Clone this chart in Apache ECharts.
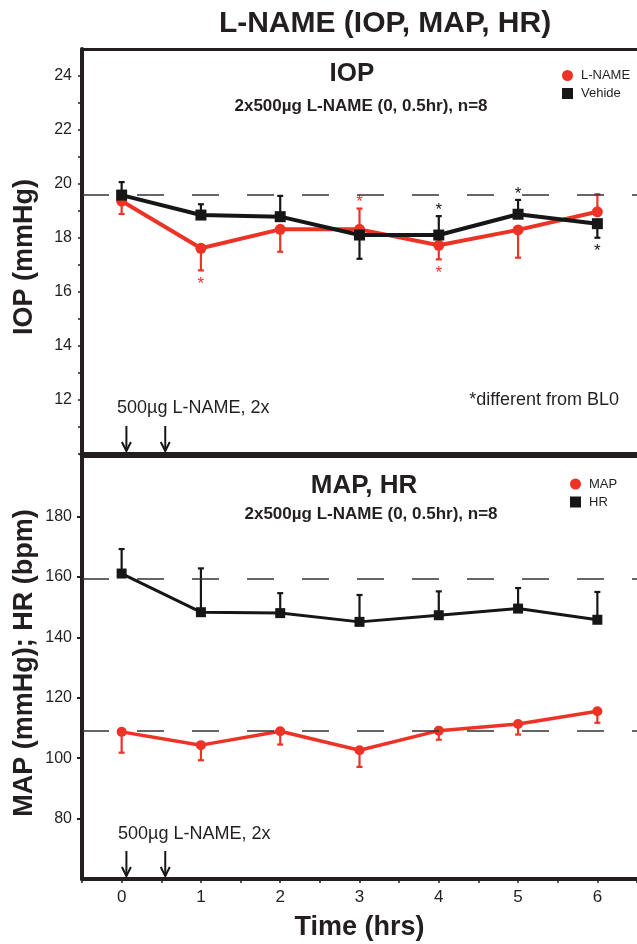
<!DOCTYPE html>
<html>
<head>
<meta charset="utf-8">
<title>L-NAME (IOP, MAP, HR)</title>
<script src="https://cdn.jsdelivr.net/npm/echarts@6/dist/echarts.min.js"></script>
<style>
  html, body { margin: 0; padding: 0; background: #fff; }
  #chart { width: 637px; height: 944px; }
</style>
</head>
<body>
<div id="chart"></div>
<script>
// time points (hrs) and the two L-NAME doses
var hours = [0, 1, 2, 3, 4, 5, 6];
var doseTimes = [0.06, 0.55];

// IOP (mmHg): mean, SEM, side of the error bar (1 up, -1 down), significance
var iopLName = [19.37, 17.62, 18.32, 18.32, 17.73, 18.30, 18.97];
var iopLNameSem = [0.48, 0.82, 0.83, 0.77, 0.52, 1.03, 0.65];
var iopLNameDir = [-1, -1, -1, 1, -1, -1, 1];
var iopLNameSig = [0, 1, 0, 1, 1, 0, 0];

var iopVehicle = [19.59, 18.85, 18.79, 18.11, 18.11, 18.88, 18.53];
var iopVehicleSem = [0.48, 0.40, 0.77, 0.88, 0.70, 0.53, 0.52];
var iopVehicleDir = [1, 1, 1, -1, 1, 1, -1];
var iopVehicleSig = [0, 0, 0, 0, 1, 1, 1];

var iopBaseline = 19.6;

// MAP (mmHg) and HR (bpm)
var mapValues = [108.7, 104.3, 108.9, 102.6, 109.1, 111.3, 115.5];
var mapSem = [6.9, 5.0, 4.4, 5.5, 3.0, 3.5, 3.8];
var mapDir = [-1, -1, -1, -1, -1, -1, -1];

var hrValues = [161.1, 148.3, 148.0, 145.1, 147.3, 149.5, 145.8];
var hrSem = [8.1, 14.5, 6.6, 8.9, 7.9, 6.8, 9.2];
var hrDir = [1, 1, 1, 1, 1, 1, 1];

var mapBaseline = 109.2;
var hrBaseline = 159.5;

// axes
var hourLabels = [0, 1, 2, 3, 4, 5, 6];
var hourTicks = [-0.5, 0, 0.5, 1, 1.5, 2, 2.5, 3, 3.5, 4, 4.5, 5, 5.5, 6, 6.5];
var iopLabels = [12, 14, 16, 18, 20, 22, 24];
var iopTicks = [10, 11, 12, 13, 14, 15, 16, 17, 18, 19, 20, 21, 22, 23, 24];
var bpLabels = [80, 100, 120, 140, 160, 180];

var IOP_MIN = 10, IOP_MAX = 25, BP_MIN = 60, BP_MAX = 200;

var RED = '#ec3326';
var BLACK = '#161616';
var INK = '#231f20';
var FONT = '"Liberation Sans", Arial, Helvetica, sans-serif';

var chart = echarts.init(document.getElementById('chart'), null, { renderer: 'canvas' });

function pairs(values) {
  return hours.map(function (h, i) { return [h, values[i]]; });
}

function errRows(values, sem, dir, sig) {
  return hours.map(function (h, i) {
    return [h, values[i], sem[i], dir[i], sig ? sig[i] : 0];
  });
}

// vertical one-sided error bar with a cap, plus "*" past its end when significant
function errorBars(color, width) {
  return function (params, api) {
    var x = api.value(0), v = api.value(1), e = api.value(2), d = api.value(3), sig = api.value(4);
    var p0 = api.coord([x, v]);
    var p1 = api.coord([x, v + d * e]);
    var kids = [
      { type: 'line', shape: { x1: p0[0], y1: p0[1], x2: p1[0], y2: p1[1] },
        style: { stroke: color, lineWidth: width } },
      { type: 'line', shape: { x1: p1[0] - 3, y1: p1[1], x2: p1[0] + 3, y2: p1[1] },
        style: { stroke: color, lineWidth: width } }
    ];
    if (sig) {
      kids.push({
        type: 'text',
        style: {
          text: '*', x: p1[0], y: p1[1] + (d > 0 ? -6 : 14),
          fill: color, font: '17px ' + FONT,
          align: 'center', verticalAlign: 'middle',
          textAlign: 'center', textVerticalAlign: 'middle'
        }
      });
    }
    return { type: 'group', children: kids };
  };
}

// injection arrows standing on the bottom axis
function doseArrow(params, api) {
  var p = api.coord([api.value(0), api.value(1)]);
  var tip = p[1] - 3, top = tip - 25;
  return {
    type: 'group',
    children: [
      { type: 'line', shape: { x1: p[0], y1: top, x2: p[0], y2: tip },
        style: { stroke: BLACK, lineWidth: 2 } },
      { type: 'polyline', shape: { points: [[p[0] - 4.5, tip - 9], [p[0], tip], [p[0] + 4.5, tip - 9]] },
        style: { stroke: BLACK, lineWidth: 2, fill: null } }
    ]
  };
}

function baseline(value) {
  return {
    silent: true,
    symbol: 'none',
    label: { show: false },
    lineStyle: { type: [27, 28], color: '#333', width: 1.5 },
    data: [{ yAxis: value }]
  };
}

function text(str, x, y, size, bold, align, rotate) {
  return {
    type: 'text', x: x, y: y, rotation: rotate || 0,
    style: {
      text: str, fill: INK,
      font: (bold ? 'bold ' : '') + size + 'px ' + FONT,
      align: align || 'center', verticalAlign: 'middle',
      textAlign: align || 'center', textVerticalAlign: 'middle'
    }
  };
}

function xAxisBase(grid, pos, lineWidth) {
  return {
    type: 'value', gridIndex: grid, position: pos, min: -0.5, max: 6.5,
    axisLine: { onZero: false, lineStyle: { color: INK, width: lineWidth } },
    axisTick: { show: false },
    axisLabel: { show: false },
    splitLine: { show: false }
  };
}

var bottomX = xAxisBase(1, 'bottom', 4);
bottomX.axisTick = { show: true, customValues: hourTicks, length: 4, lineStyle: { color: INK, width: 1.5 } };
bottomX.axisLabel = { show: true, customValues: hourLabels, fontSize: 17, color: INK, fontFamily: FONT, margin: 10 };
bottomX.name = 'Time (hrs)';
bottomX.nameLocation = 'middle';
bottomX.nameGap = 35;
bottomX.nameTextStyle = { fontSize: 27, fontWeight: 'bold', color: INK, fontFamily: FONT };

var legendText = { fontSize: 13, color: INK, fontFamily: FONT, padding: [0, 0, 0, 3] };

var option = {
  animation: false,
  backgroundColor: '#fff',
  grid: [
    { left: 82, top: 49, width: 561, height: 405 },
    { left: 82, top: 456, width: 561, height: 423 }
  ],
  xAxis: [
    xAxisBase(0, 'bottom', 5),
    xAxisBase(0, 'top', 3),
    bottomX,
    xAxisBase(1, 'top', 3)
  ],
  yAxis: [
    {
      type: 'value', gridIndex: 0, min: IOP_MIN, max: IOP_MAX,
      axisLine: { show: true, onZero: false, lineStyle: { color: INK, width: 4 } },
      axisTick: { show: true, customValues: iopTicks, length: 4, lineStyle: { color: INK, width: 1.5 } },
      axisLabel: { customValues: iopLabels, fontSize: 16, color: INK, fontFamily: FONT, margin: 10 },
      splitLine: { show: false }
    },
    {
      type: 'value', gridIndex: 1, min: BP_MIN, max: BP_MAX,
      axisLine: { show: true, onZero: false, lineStyle: { color: INK, width: 4 } },
      axisTick: { show: true, customValues: bpLabels, length: 5, lineStyle: { color: INK, width: 2 } },
      axisLabel: { customValues: bpLabels, fontSize: 16, color: INK, fontFamily: FONT, margin: 10 },
      splitLine: { show: false }
    }
  ],
  legend: [
    {
      orient: 'vertical', left: 562, top: 69, padding: 0, itemGap: 5,
      itemWidth: 11, itemHeight: 11,
      textStyle: legendText,
      data: [{ name: 'L-NAME', icon: 'circle' }, { name: 'Vehide', icon: 'rect' }]
    },
    {
      orient: 'vertical', left: 570, top: 477.5, padding: 0, itemGap: 5,
      itemWidth: 11, itemHeight: 11,
      textStyle: legendText,
      data: [{ name: 'MAP', icon: 'circle' }, { name: 'HR', icon: 'rect' }]
    }
  ],
  graphic: [
    text('L-NAME (IOP, MAP, HR)', 385, 24, 30, true),
    text('IOP', 352, 74, 26, true),
    text('2x500\u00b5g L-NAME (0, 0.5hr), n=8', 361, 106, 17, true),
    text('*different from BL0', 619, 400, 18, false, 'right'),
    text('500\u00b5g L-NAME, 2x', 117, 408, 18, false, 'left'),
    text('IOP (mmHg)', 25, 257, 27, true, 'center', Math.PI / 2),
    text('MAP, HR', 364, 486, 26, true),
    text('2x500\u00b5g L-NAME (0, 0.5hr), n=8', 371, 514, 17, true),
    text('500\u00b5g L-NAME, 2x', 118, 834, 18, false, 'left'),
    text('MAP (mmHg); HR (bpm)', 25, 663, 27, true, 'center', Math.PI / 2)
  ],
  series: [
    // ---- IOP panel
    {
      type: 'custom', xAxisIndex: 0, yAxisIndex: 0, z: 1,
      renderItem: errorBars(RED, 2.2),
      encode: { x: 0, y: 1 },
      data: errRows(iopLName, iopLNameSem, iopLNameDir, iopLNameSig)
    },
    {
      name: 'L-NAME', type: 'line', xAxisIndex: 0, yAxisIndex: 0, z: 2,
      data: pairs(iopLName),
      symbol: 'circle', symbolSize: 11,
      itemStyle: { color: RED }, lineStyle: { color: RED, width: 4 }
    },
    {
      type: 'custom', xAxisIndex: 0, yAxisIndex: 0, z: 3,
      renderItem: errorBars(BLACK, 2.2),
      encode: { x: 0, y: 1 },
      data: errRows(iopVehicle, iopVehicleSem, iopVehicleDir, iopVehicleSig)
    },
    {
      name: 'Vehide', type: 'line', xAxisIndex: 0, yAxisIndex: 0, z: 4,
      data: pairs(iopVehicle),
      symbol: 'rect', symbolSize: 11,
      itemStyle: { color: BLACK }, lineStyle: { color: BLACK, width: 4 },
      markLine: baseline(iopBaseline)
    },
    {
      type: 'custom', xAxisIndex: 0, yAxisIndex: 0, z: 5,
      renderItem: doseArrow,
      encode: { x: 0, y: 1 },
      data: doseTimes.map(function (t) { return [t, IOP_MIN]; })
    },
    // ---- MAP / HR panel
    {
      type: 'custom', xAxisIndex: 2, yAxisIndex: 1, z: 1,
      renderItem: errorBars(RED, 2.2),
      encode: { x: 0, y: 1 },
      data: errRows(mapValues, mapSem, mapDir)
    },
    {
      name: 'MAP', type: 'line', xAxisIndex: 2, yAxisIndex: 1, z: 2,
      data: pairs(mapValues),
      symbol: 'circle', symbolSize: 10,
      itemStyle: { color: RED }, lineStyle: { color: RED, width: 3.5 },
      markLine: baseline(mapBaseline)
    },
    {
      type: 'custom', xAxisIndex: 2, yAxisIndex: 1, z: 3,
      renderItem: errorBars(BLACK, 2.2),
      encode: { x: 0, y: 1 },
      data: errRows(hrValues, hrSem, hrDir)
    },
    {
      name: 'HR', type: 'line', xAxisIndex: 2, yAxisIndex: 1, z: 4,
      data: pairs(hrValues),
      symbol: 'rect', symbolSize: 10,
      itemStyle: { color: BLACK }, lineStyle: { color: BLACK, width: 3 },
      markLine: baseline(hrBaseline)
    },
    {
      type: 'custom', xAxisIndex: 2, yAxisIndex: 1, z: 5,
      renderItem: doseArrow,
      encode: { x: 0, y: 1 },
      data: doseTimes.map(function (t) { return [t, BP_MIN]; })
    }
  ]
};

chart.setOption(option);
</script>
</body>
</html>
